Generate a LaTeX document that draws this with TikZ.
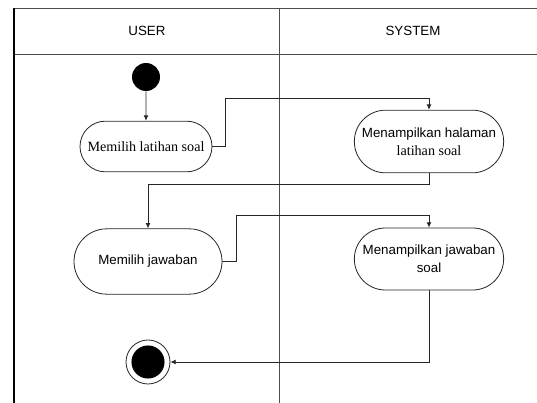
\documentclass[tikz,border=0pt]{standalone}
\usepackage{fontspec}
\setmainfont{Liberation Sans}
\newfontfamily\soalfont{Liberation Serif}
\usetikzlibrary{shapes.misc, arrows.meta}

\begin{document}
\begin{tikzpicture}[x=0.75pt, y=-0.75pt, >={Latex[length=4pt,width=3.6pt]},
  font=\fontsize{10}{13.5}\selectfont,
  lane/.style={draw=black!70, line width=0.6pt},
  act/.style={draw=black!85, rounded rectangle, line width=0.6pt, align=center, inner sep=1pt},
  flow/.style={->, draw=black!85, line width=0.6pt}]
\useasboundingbox (0,0) rectangle (537,403);
% swimlanes
\draw[lane] (537,8.5) -- (14,8.5);
\draw[lane] (537,54) -- (14,54);
\draw[lane] (279,8.5) -- (279,403);
\draw[line width=1.2pt] (14,8.5) -- (14,403);
\node (user) at (147,31) {USER};
\node (system) at (413,31) {SYSTEM};
% states
\node[circle, fill=black, minimum size=21pt, inner sep=0pt] (start) at (146,77) {};
\node[act, minimum width=101pt, minimum height=38pt] (a1) at (146,146.5) {\soalfont\fontsize{10.6}{13.5}\selectfont Memilih latihan soal};
\node[act, minimum width=114pt, minimum height=47pt] (a2) at (429,141.5) {Menampilkan halaman\\{\soalfont\fontsize{10.6}{13.5}\selectfont latihan soal}};
\node[act, minimum width=113pt, minimum height=49pt] (a3) at (148,261.5) {Memilih jawaban};
\node[act, minimum width=114pt, minimum height=46.5pt] (a4) at (429,259) {Menampilkan jawaban\\soal};
\node[circle, draw=black!85, line width=0.6pt, minimum size=33pt, inner sep=0pt] (stop) at (148,362) {};
\fill (stop.center) circle (12.4pt);
% bends
\coordinate (k1) at (225,98);
\coordinate (k2) at (148,184);
\coordinate (k3) at (236,215);
% flows
\draw[flow] (start) -- (a1);
\draw[flow] (a1.east) -| (k1) -| (a2.north);
\draw[flow] (a2.south) |- (k2) -- (a3.north);
\draw[flow] (a3.east) -| (k3) -| (a4.north);
\draw[flow] (a4.south) |- (stop.east);
\end{tikzpicture}
\end{document}
